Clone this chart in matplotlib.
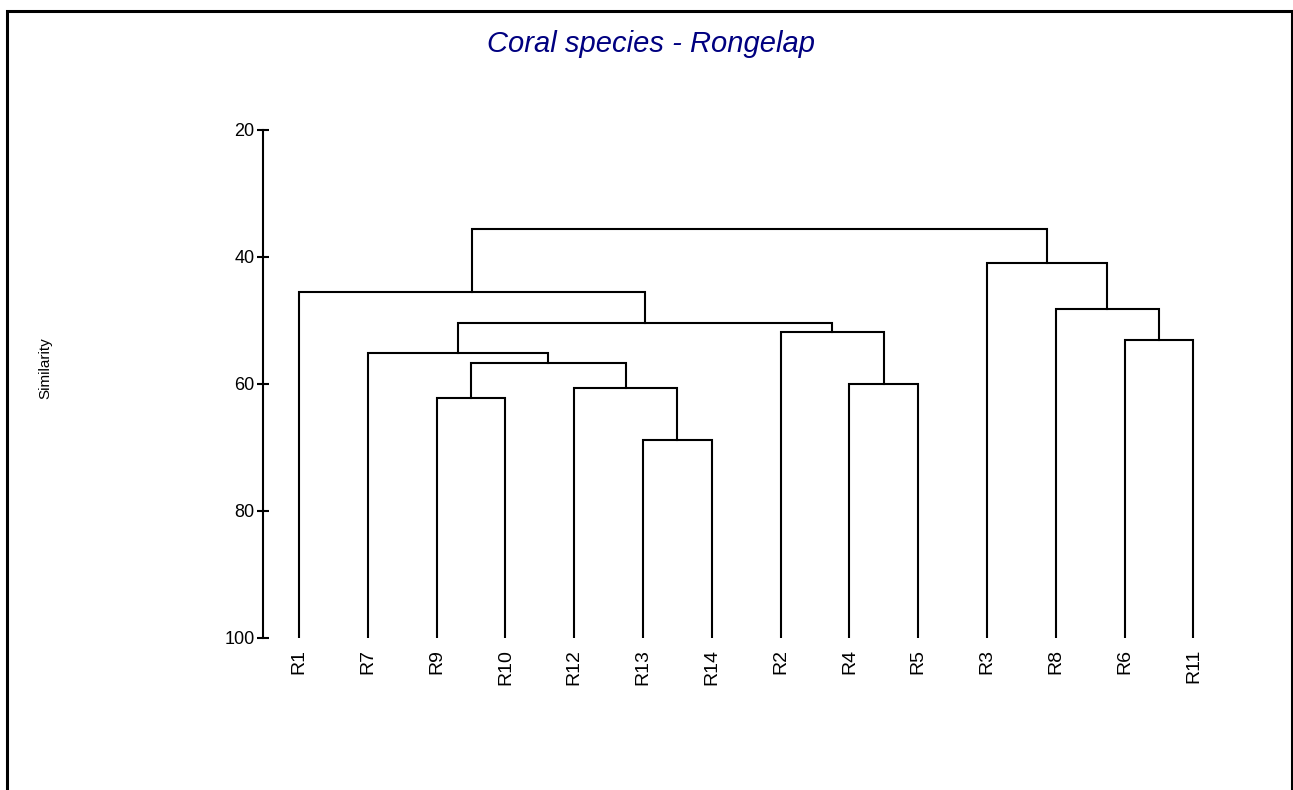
import matplotlib
matplotlib.use("Agg")
import matplotlib.pyplot as plt
from matplotlib.patches import Rectangle

plt.rcParams['font.family'] = ['Liberation Sans', 'DejaVu Sans']

# Leaf order along the x axis
leaf_labels = ["R1", "R7", "R9", "R10", "R12", "R13", "R14",
               "R2", "R4", "R5", "R3", "R8", "R6", "R11"]

# Group-average merges: (left member, right member, similarity %)
# members are leaf labels or "m<k>" for the k-th merge below
merge_left = ["R9", "R13", "R12", "m0", "R7", "R4", "R2", "m4", "R1",
              "R6", "R8", "R3", "m8"]
merge_right = ["R10", "R14", "m1", "m2", "m3", "R5", "m5", "m6", "m7",
               "R11", "m9", "m10", "m11"]
merge_similarity = [62.2, 68.8, 60.6, 56.8, 55.2, 60.0, 51.8, 50.5, 45.5,
                    53.1, 48.3, 41.0, 35.6]

y_ticks = [20, 40, 60, 80, 100]

fig = plt.figure(figsize=(12.93, 7.90), dpi=100)
ax = fig.add_axes([263.2 / 1293, 1 - 637.7 / 790, 964.6 / 1293, (637.7 - 129.7) / 790])

pos = {lab: (i, 100.0) for i, lab in enumerate(leaf_labels)}
for k, (a, b, s) in enumerate(zip(merge_left, merge_right, merge_similarity)):
    xa, ya = pos[a]
    xb, yb = pos[b]
    ax.plot([xa, xa, xb, xb], [ya, s, s, yb], color="black", lw=1.5,
            solid_joinstyle="miter", solid_capstyle="projecting")
    pos[f"m{k}"] = ((xa + xb) / 2, s)

ax.set_xlim(-0.52, 13.5)
ax.set_ylim(100, 20)
ax.set_yticks(y_ticks)
ax.set_yticklabels([str(t) for t in y_ticks], fontsize=13)
ax.tick_params(axis="y", direction="inout", length=8.5, width=1.5, pad=2)
ax.set_xticks(range(len(leaf_labels)))
ax.set_xticklabels(leaf_labels, rotation=90, fontsize=14, va="top")
ax.tick_params(axis="x", length=0, pad=8)

for side in ("top", "right", "bottom"):
    ax.spines[side].set_visible(False)
ax.spines["left"].set_linewidth(1.5)
ax.spines["left"].set_bounds(20, 100)

fig.text(45 / 1293, 1 - 368 / 790, "Similarity", rotation=90, fontsize=11,
         ha="center", va="center")
fig.text(651 / 1293, 1 - 44 / 790, "Coral species - Rongelap", fontsize=21,
         style="italic", color="#000080", ha="center", va="center")

border = Rectangle((6.5 / 1293, -0.1), (1291.5 - 6.5) / 1293, 1.1 - 10.8 / 790,
                   transform=fig.transFigure, fill=False, edgecolor="black",
                   linewidth=2.2, clip_on=False)
fig.add_artist(border)

fig.savefig("out.png", dpi=100, facecolor="white")
